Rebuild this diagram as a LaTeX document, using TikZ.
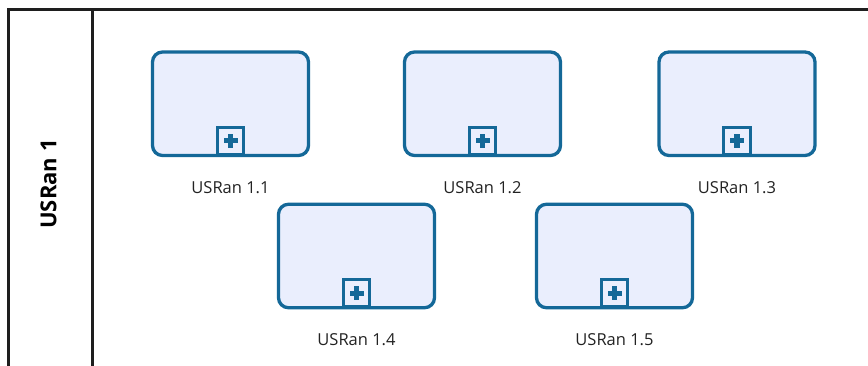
\documentclass[tikz,border=0pt]{standalone}
\usepackage{fontspec}
\setmainfont{Open Sans}
\definecolor{taskline}{RGB}{20,104,152}
\definecolor{taskfill}{RGB}{234,238,253}
\definecolor{poolline}{RGB}{30,30,30}
\definecolor{labeltext}{RGB}{34,34,34}
\begin{document}
\begin{tikzpicture}[x=1pt,y=-1pt,
  subprocess/.style={draw=taskline, fill=taskfill, line width=3.3pt,
    rounded corners=10pt, minimum width=156pt, minimum height=103.5pt,
    inner sep=0pt, outer sep=0pt},
  collapsemark/.style={draw=taskline, fill=taskfill, line width=2.8pt,
    minimum size=26.5pt, inner sep=0pt, anchor=south,
    path picture={
      \fill[taskline] ([xshift=-7pt,yshift=-2.6pt]path picture bounding box.center) rectangle ++(14pt,5.2pt);
      \fill[taskline] ([xshift=-2.6pt,yshift=-7pt]path picture bounding box.center) rectangle ++(5.2pt,14pt);
    }},
  tasklabel/.style={font=\fontsize{16.5}{18}\selectfont, text=labeltext},
  lanelabel/.style={font=\bfseries\fontsize{22}{24}\selectfont, text=black, rotate=90},
  poolborder/.style={draw=poolline, line width=2.2pt}
]
\useasboundingbox (0,0) rectangle (868,365);

% pool and lane outline
\coordinate (poolBL) at (8.5,366);
\coordinate (poolTL) at (8.5,9.5);
\coordinate (poolTR) at (869,9.5);
\coordinate (laneT) at (92.5,9.5);
\coordinate (laneB) at (92.5,366);
\draw[poolborder] (poolBL) -- (poolTL) -- (poolTR);
\draw[poolborder] (laneT) -- (laneB);
\node[lanelabel] (lane) at (48.5,184) {USRan 1};

% collapsed sub-processes
\node[subprocess] (s1) at (230.5,103.75) {};
\node[subprocess] (s2) at (482.5,103.75) {};
\node[subprocess] (s3) at (737,103.75) {};
\node[subprocess] (s4) at (356.5,256) {};
\node[subprocess] (s5) at (614.5,256) {};

\foreach \s in {s1,s2,s3,s4,s5}{
  \node[collapsemark] (\s m) at (\s.south) {};
}

\node[tasklabel] (l1) at (230.5,188) {USRan 1.1};
\node[tasklabel] (l2) at (482.5,188) {USRan 1.2};
\node[tasklabel] (l3) at (737,188) {USRan 1.3};
\node[tasklabel] (l4) at (356.5,340) {USRan 1.4};
\node[tasklabel] (l5) at (614.5,340) {USRan 1.5};
\end{tikzpicture}
\end{document}
